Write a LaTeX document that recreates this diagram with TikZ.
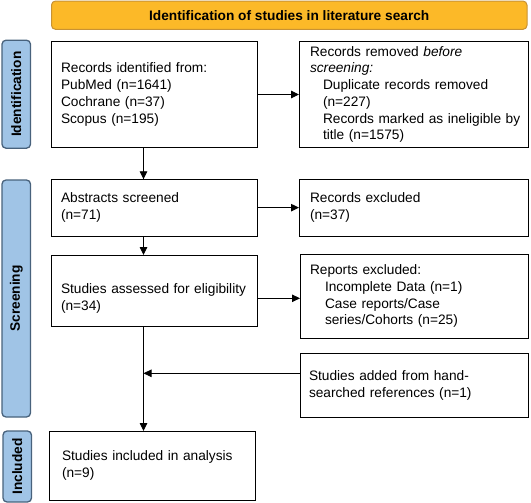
\documentclass[tikz,border=0pt]{standalone}
\usepackage{fontspec}
\setmainfont{Liberation Sans}
\usetikzlibrary{arrows.meta}
\definecolor{headfill}{RGB}{252,185,40}
\definecolor{headline}{RGB}{200,146,52}
\definecolor{sidefill}{RGB}{160,196,230}
\definecolor{sideline}{RGB}{72,98,124}
\begin{document}
\begin{tikzpicture}[x=1pt, y=-1pt,
    every node/.style={font=\fontsize{13.7}{16.7}\selectfont, outer sep=0pt},
    head/.style={draw=headline, fill=headfill, line width=1pt, rounded corners=4pt,
        font=\fontsize{13.7}{16.7}\selectfont\bfseries},
    side/.style={draw=sideline, fill=sidefill, line width=1.3pt, rounded corners=4pt,
        rotate=90, minimum height=28.5, font=\fontsize{13.7}{16.7}\selectfont\bfseries},
    box/.style={draw, line width=0.9pt, anchor=north west, inner sep=0pt, align=left},
    arr/.style={line width=0.9pt, -{Triangle[length=8pt,width=7.5pt]}}]
    \useasboundingbox (0,0) rectangle (531,503);
    \node[head, minimum width=475.5, minimum height=28.3] (head) at (289.25,15.2)
        {Identification of studies in literature search};
    \node[side, minimum width=108] (sidid) at (16.25,94.2) {Identification};
    \node[side, minimum width=237] (sidscr) at (16.25,298.5) {Screening};
    \node[side, minimum width=71] (sidinc) at (17.25,466.5) {Included};
    \node[box, text width=206, minimum height=105.6] (recid) at (51,41.7)
        {\leftskip=10pt\relax Records identified from:\\PubMed (n=1641)\\Cochrane (n=37)\\Scopus (n=195)\par};
    \node[box, text width=229, minimum height=105.6] (recrem) at (299,41.7)
        {\leftskip=11pt\relax Records removed \textit{before}\\\textit{screening:}\\
        \hspace*{13pt}Duplicate records removed\\\hspace*{13pt}(n=227)\\
        \hspace*{13pt}Records marked as ineligible by\\\hspace*{13pt}title (n=1575)\par};
    \node[box, text width=206, minimum height=56.7] (abstr) at (51,179.3)
        {\leftskip=10pt\relax Abstracts screened\\(n=71)\par};
    \node[box, text width=229, minimum height=56.7] (recexc) at (299,179.3)
        {\leftskip=11pt\relax Records excluded\\(n=37)\par};
    \node[box, text width=206, minimum height=71] (stuel) at (51,255)
        {\leftskip=10pt\relax\rule{0pt}{26pt}Studies assessed for eligibility\\(n=34)\par};
    \node[box, text width=228, minimum height=84] (repexc) at (300,254.3)
        {\leftskip=10pt\relax Reports excluded:\\\hspace*{15pt}Incomplete Data (n=1)\\
        \hspace*{15pt}Case reports/Case\\\hspace*{15pt}series/Cohorts (n=25)\par\vspace*{12pt}};
    \node[box, text width=228, minimum height=64] (stuadd) at (300,353.3)
        {\leftskip=9pt\relax Studies added from hand-\\searched references (n=1)\par};
    \node[box, text width=206, minimum height=69] (stuinc) at (49,431)
        {\leftskip=13pt\relax Studies included in analysis\\(n=9)\par};
    \coordinate (vx) at (143.5,0);
    \coordinate (arrrep) at (0,298.3);
    \coordinate (arradd) at (0,373.3);
    \draw[arr] (recid.east) -- (recrem.west |- recid.east);
    \draw[arr] (abstr.east) -- (recexc.west |- abstr.east);
    \draw[arr] (stuel.east |- arrrep) -- (repexc.west |- arrrep);
    \draw[arr] (recid.south -| vx) -- (abstr.north -| vx);
    \draw[arr] (abstr.south -| vx) -- (stuel.north -| vx);
    \draw[arr] (stuel.south -| vx) -- (stuinc.north -| vx);
    \draw[arr] (stuadd.west |- arradd) -- (vx |- arradd);
\end{tikzpicture}
\end{document}
